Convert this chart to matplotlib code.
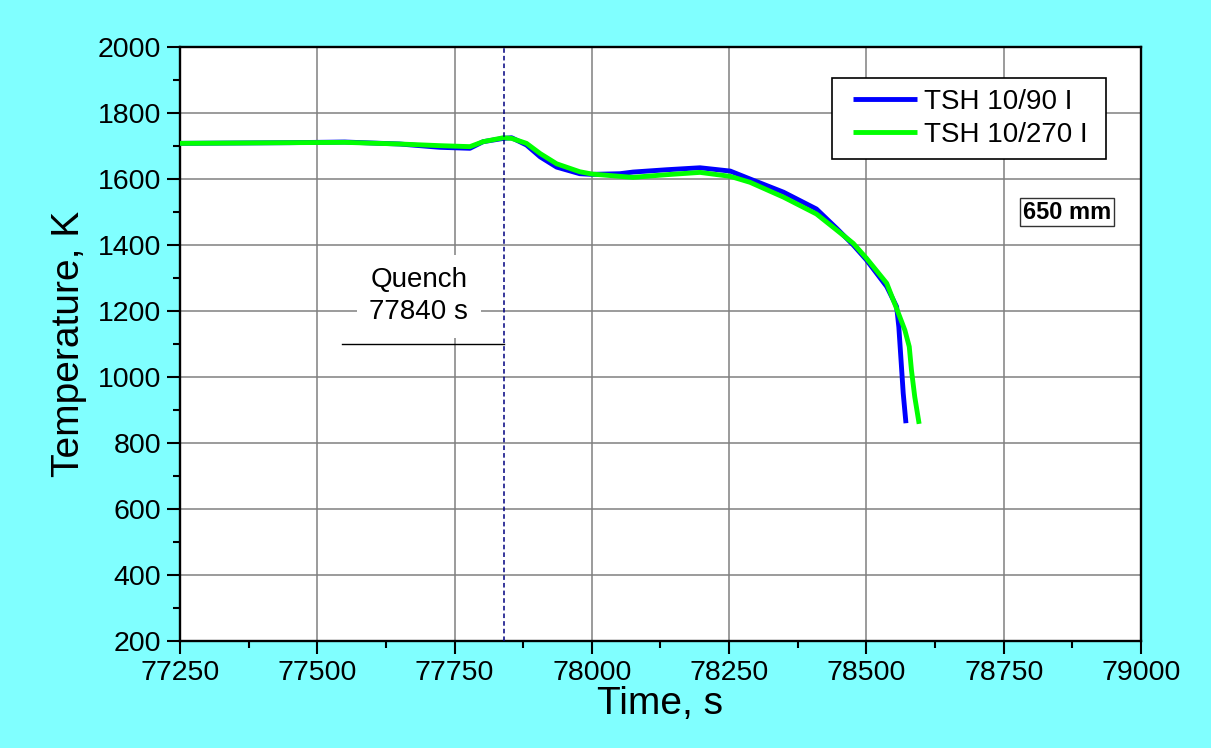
import matplotlib
matplotlib.use("Agg")
import matplotlib.pyplot as plt
from matplotlib.patches import Rectangle
from matplotlib.ticker import MultipleLocator

plt.rcParams["font.family"] = ["Liberation Sans", "DejaVu Sans"]

# TSH 10/90 I
t_90 = [77250, 77350, 77450, 77550, 77650, 77723, 77778, 77802, 77839, 77854,
        77881, 77906, 77936, 77978, 78000, 78051, 78075, 78136, 78197, 78252,
        78288, 78349, 78409, 78446, 78476, 78500, 78537, 78555, 78559, 78563,
        78567, 78572]
temp_90 = [1708, 1709, 1710, 1712, 1706, 1696, 1693, 1713, 1723, 1725,
           1703, 1667, 1636, 1616, 1614, 1616, 1621, 1628, 1634, 1624,
           1600, 1560, 1509, 1450, 1400, 1355, 1274, 1213, 1152, 1052,
           951, 860]

# TSH 10/270 I
t_270 = [77250, 77350, 77450, 77550, 77650, 77723, 77778, 77802, 77839, 77854,
         77881, 77906, 77936, 77978, 78000, 78051, 78075, 78136, 78197, 78252,
         78288, 78349, 78409, 78446, 78476, 78500, 78537, 78556, 78570, 78578,
         78582, 78588, 78596]
temp_270 = [1708, 1709, 1710, 1711, 1706, 1701, 1698, 1713, 1725, 1723,
            1708, 1677, 1646, 1622, 1615, 1608, 1605, 1613, 1620, 1608,
            1590, 1545, 1494, 1445, 1405, 1360, 1284, 1203, 1142, 1092,
            1021, 940, 858]

labels = ["TSH 10/90 I", "TSH 10/270 I"]
quench_t = 77840


def main():
    bg = "#80FFFF"
    fig = plt.figure(figsize=(12.11, 7.48), dpi=100, facecolor=bg)
    ax = fig.add_axes([0.1486, 0.1430, 0.7936, 0.7942])
    ax.set_facecolor("white")

    ax.plot(t_90, temp_90, color="#0000FF", lw=3.5, label=labels[0], zorder=3,
            solid_joinstyle="round", solid_capstyle="butt")
    ax.plot(t_270, temp_270, color="#00FF00", lw=3.5, label=labels[1], zorder=4,
            solid_joinstyle="round", solid_capstyle="butt")

    ax.axvline(quench_t, color="#000080", lw=1.1, ls=(0, (3, 2)), zorder=5)
    ax.plot([77545, quench_t], [1100, 1100], color="black", lw=1, zorder=5)
    ax.text(77685, 1245, "Quench\n77840 s", ha="center", va="center",
            fontsize=20, linespacing=1.3, zorder=4,
            bbox=dict(boxstyle="square,pad=0.45", fc="white", ec="none"))

    ax.text(0.923, 0.722, "650 mm", transform=ax.transAxes, ha="center",
            va="center", fontsize=17, fontweight="bold",
            bbox=dict(boxstyle="square,pad=0.12", fc="white", ec="#333333", lw=1))

    ax.set_xlim(77250, 79000)
    ax.set_ylim(200, 2000)
    ax.xaxis.set_major_locator(MultipleLocator(250))
    ax.xaxis.set_minor_locator(MultipleLocator(125))
    ax.yaxis.set_major_locator(MultipleLocator(200))
    ax.yaxis.set_minor_locator(MultipleLocator(100))
    ax.grid(True, which="major", color="#808080", lw=1.1, zorder=0)
    ax.set_axisbelow(True)

    ax.tick_params(which="major", direction="out", length=9.5, width=1.5,
                   labelsize=20.5, pad=4)
    ax.tick_params(which="minor", direction="out", length=5, width=1.5)
    for s in ax.spines.values():
        s.set_linewidth(1.7)
        s.set_color("black")

    ax.set_xlabel("Time, s", fontsize=28, labelpad=0)
    ax.set_ylabel("Temperature, K", fontsize=28, labelpad=8)

    # legend frame drawn separately to get the wide side margins
    ax.add_patch(Rectangle((0.6785, 0.8114), 0.2851, 0.1364,
                           transform=ax.transAxes, fc="white", ec="black",
                           lw=1.2, zorder=6))
    leg = ax.legend(loc="upper left", bbox_to_anchor=(0.7003, 0.930),
                    fontsize=20, frameon=False, handlelength=2.3,
                    handletextpad=0.25, borderpad=0, labelspacing=0.25,
                    borderaxespad=0)
    leg.set_zorder(7)
    for line in leg.get_lines():
        line.set_linewidth(3.5)

    fig.savefig("out.png", dpi=100, facecolor=bg)


if __name__ == "__main__":
    main()
